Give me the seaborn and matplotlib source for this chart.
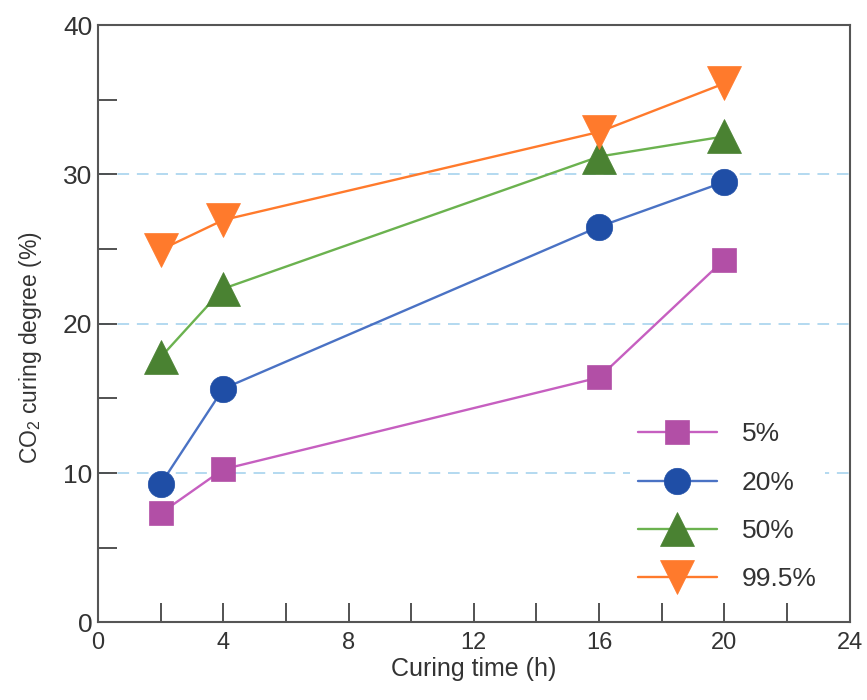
import matplotlib
matplotlib.use("Agg")
import matplotlib.pyplot as plt
import seaborn as sns
import pandas as pd
from matplotlib.ticker import MultipleLocator

# Data
curing_time = [2, 4, 16, 20]
labels = ["5%", "20%", "50%", "99.5%"]
co2_5 = [7.3, 10.25, 16.4, 24.3]
co2_20 = [9.25, 15.65, 26.5, 29.5]
co2_50 = [17.75, 22.35, 31.2, 32.55]
co2_995 = [24.95, 26.95, 32.85, 36.1]
series = [co2_5, co2_20, co2_50, co2_995]

line_colors = ["#c65fc0", "#4a72c4", "#6bb24f", "#ff7a2c"]
marker_colors = ["#b24fa6", "#1f4ea6", "#4a8232", "#ff7a2c"]
markers = ["s", "o", "^", "v"]
msizes = [17, 19, 25, 25]

sns.set_theme(style="ticks")
plt.rcParams["font.family"] = ["Liberation Sans", "DejaVu Sans"]
plt.rcParams["mathtext.default"] = "regular"

fig = plt.figure(figsize=(8.67, 7.0), dpi=100)
ax = fig.add_axes([0.113, 0.111, 0.867, 0.853])

# grid lines
for gy in [10, 20, 30]:
    ax.axhline(gy, color="#b3d9f0", lw=1.4, ls=(0, (6, 4)), zorder=0)

for i, (lab, vals) in enumerate(zip(labels, series)):
    df = pd.DataFrame({"t": curing_time, "v": vals})
    sns.lineplot(data=df, x="t", y="v", ax=ax, color=line_colors[i], lw=1.7,
                 marker=markers[i], markersize=msizes[i],
                 markerfacecolor=marker_colors[i], markeredgecolor=marker_colors[i],
                 markeredgewidth=0.5, label=lab, zorder=3 + i)

ax.set_xlim(0, 24)
ax.set_ylim(0, 40)
ax.xaxis.set_major_locator(MultipleLocator(4))
ax.xaxis.set_minor_locator(MultipleLocator(2))
ax.yaxis.set_major_locator(MultipleLocator(10))
ax.yaxis.set_minor_locator(MultipleLocator(5))
ax.tick_params(axis="both", which="both", direction="in", color="#444444",
               width=1.3, top=False, right=False)
ax.tick_params(axis="x", which="both", length=14, labelsize=17, pad=7,
               labelcolor="#333333")
ax.tick_params(axis="y", which="both", length=14, labelsize=19, pad=4,
               labelcolor="#333333")
for sp in ax.spines.values():
    sp.set_visible(True)
    sp.set_color("#555555")
    sp.set_linewidth(1.5)

ax.set_xlabel("Curing time (h)", fontsize=18, color="#333333", labelpad=2)
ax.set_ylabel("CO$_2$ curing degree (%)", fontsize=16.5, color="#333333")
ax.yaxis.set_label_coords(-0.072, 0.46)

leg = ax.legend(loc="upper left", bbox_to_anchor=(0.69, 0.37), fontsize=19,
                frameon=True, facecolor="white", edgecolor="none", framealpha=1,
                handlelength=3.0, handletextpad=0.95, labelspacing=0.92,
                borderpad=0.3)
for t in leg.get_texts():
    t.set_color("#333333")

fig.savefig("out.png", dpi=100)
